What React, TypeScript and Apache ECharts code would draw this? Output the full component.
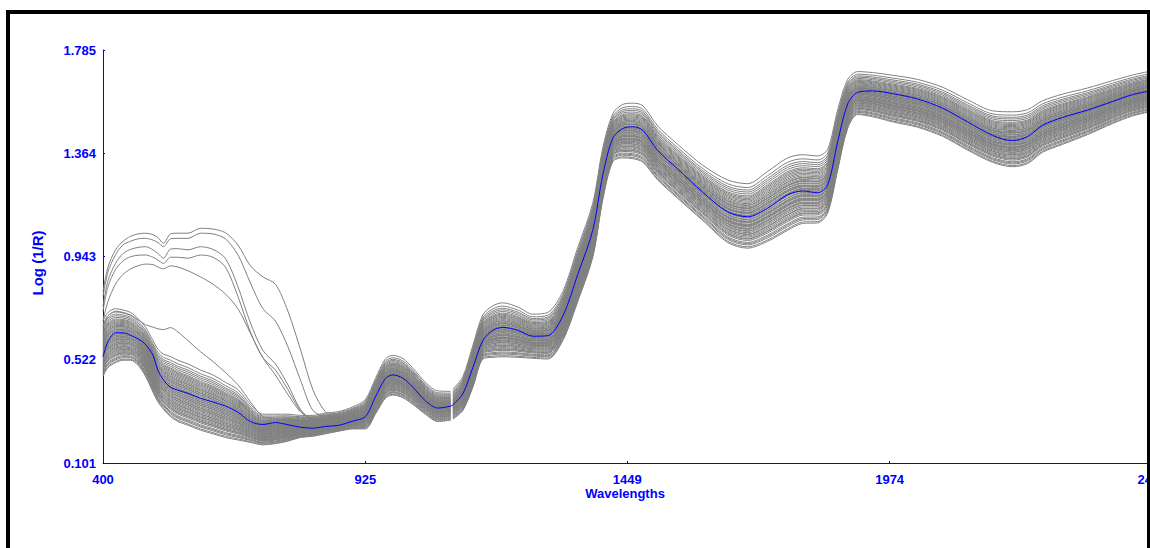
import React, { useEffect, useRef } from "react";
import * as echarts from "echarts";

// Wavelength grid (nm)
const WAVELENGTHS = [
  400, 410, 425, 440, 455, 470, 485, 500, 510, 521, 535, 550, 570, 595, 620, 645, 670, 695, 720, 745, 770, 795, 820, 845, 870, 900,
  925, 945, 965, 980, 1000, 1020, 1045, 1070, 1096, 1100,
  1120, 1140, 1160, 1180, 1200, 1230, 1260, 1290, 1320, 1350,
  1380, 1400, 1420, 1440, 1460, 1480, 1510, 1550, 1600, 1650,
  1690, 1730, 1770, 1800, 1830, 1850, 1870, 1890, 1910, 1940,
  1980, 2030, 2080, 2130, 2180, 2220, 2250, 2280, 2320, 2370,
  2420, 2460, 2499,
];

// Mean spectrum (blue line)
const MEAN_SPECTRUM = [
  0.535, 0.595, 0.632, 0.632, 0.622, 0.607, 0.585, 0.54, 0.478, 0.44, 0.41, 0.398, 0.385, 0.365, 0.35, 0.333, 0.308, 0.27, 0.258, 0.266, 0.257, 0.247, 0.243, 0.25, 0.254, 0.272,
  0.29, 0.37, 0.445, 0.46, 0.447, 0.41, 0.355, 0.325, 0.333, 0.338,
  0.383, 0.49, 0.6, 0.642, 0.654, 0.642, 0.618, 0.62, 0.7, 0.87,
  1.05, 1.275, 1.425, 1.465, 1.472, 1.458, 1.375, 1.3, 1.205, 1.125,
  1.105, 1.14, 1.195, 1.21, 1.203, 1.235, 1.41, 1.565, 1.612, 1.618,
  1.607, 1.585, 1.548, 1.492, 1.437, 1.415, 1.432, 1.478, 1.51, 1.54,
  1.575, 1.603, 1.62,
];

// Upper edge of the main bundle of sample spectra
const BAND_UPPER = [
  0.68, 0.715, 0.73, 0.725, 0.715, 0.69, 0.655, 0.6, 0.565, 0.545, 0.535, 0.52, 0.505, 0.48, 0.46, 0.43, 0.4, 0.34, 0.3, 0.3, 0.3, 0.295, 0.295, 0.305, 0.31, 0.33,
  0.36, 0.445, 0.525, 0.54, 0.527, 0.488, 0.43, 0.395, 0.393, 0.402,
  0.453, 0.58, 0.705, 0.742, 0.754, 0.737, 0.708, 0.715, 0.8, 0.98,
  1.16, 1.385, 1.525, 1.563, 1.568, 1.558, 1.475, 1.4, 1.315, 1.255,
  1.24, 1.29, 1.345, 1.358, 1.353, 1.38, 1.54, 1.665, 1.697, 1.693,
  1.682, 1.665, 1.633, 1.582, 1.537, 1.533, 1.542, 1.578, 1.605, 1.63,
  1.66, 1.683, 1.7,
];

// Lower edge of the main bundle of sample spectra
const BAND_LOWER = [
  0.455, 0.49, 0.51, 0.52, 0.52, 0.5, 0.455, 0.39, 0.35, 0.32, 0.29, 0.27, 0.255, 0.235, 0.22, 0.205, 0.195, 0.185, 0.175, 0.18, 0.19, 0.205, 0.21, 0.22, 0.23, 0.24,
  0.24, 0.3, 0.365, 0.378, 0.367, 0.34, 0.3, 0.27, 0.276, 0.28,
  0.315, 0.41, 0.525, 0.532, 0.534, 0.532, 0.528, 0.525, 0.6, 0.76,
  0.94, 1.175, 1.329, 1.345, 1.342, 1.328, 1.255, 1.18, 1.09, 1.0,
  0.977, 1.005, 1.05, 1.078, 1.08, 1.12, 1.295, 1.465, 1.522, 1.513,
  1.492, 1.47, 1.433, 1.377, 1.327, 1.309, 1.322, 1.368, 1.4, 1.44,
  1.485, 1.516, 1.535,
];

// Relative position of each sample spectrum inside the bundle (0 = lower edge, 1 = upper edge)
const SAMPLE_LEVELS = [
  0.0, 0.02, 0.05, 0.07, 0.09, 0.12, 0.14, 0.15, 0.17, 0.19, 0.21, 0.22, 0.24, 0.26, 0.27, 0.29, 0.31, 0.33,
  0.34, 0.36, 0.37, 0.39, 0.41, 0.42, 0.44, 0.45, 0.47, 0.48, 0.5, 0.51, 0.53, 0.54, 0.56, 0.58, 0.59, 0.61,
  0.62, 0.64, 0.66, 0.67, 0.69, 0.71, 0.73, 0.75, 0.77, 0.79, 0.81, 0.84, 0.87, 0.9, 0.94, 1.0,
];

// Atypical samples in the visible range (400–900 nm); afterwards they join the bundle
const OUTLIER_1 = [0.8, 0.9, 0.97, 1.005, 1.025, 1.035, 1.038, 1.032, 1.02, 0.997, 1.035, 1.038, 1.038, 1.058, 1.055, 1.04, 0.99, 0.905, 0.86, 0.83, 0.72, 0.565, 0.4, 0.31, 0.285, 0.29];
const OUTLIER_2 = [0.78, 0.88, 0.95, 0.99, 1.005, 1.015, 1.017, 1.01, 1.0, 0.983, 1.015, 1.017, 1.017, 1.038, 1.035, 1.015, 0.95, 0.835, 0.73, 0.68, 0.575, 0.44, 0.315, 0.29, 0.28, 0.29];
const OUTLIER_3 = [0.74, 0.845, 0.915, 0.955, 0.972, 0.98, 0.983, 0.97, 0.955, 0.936, 0.973, 0.975, 0.97, 0.983, 0.972, 0.935, 0.82, 0.672, 0.56, 0.505, 0.42, 0.32, 0.275, 0.27, 0.27, 0.28];
const OUTLIER_4 = [0.72, 0.82, 0.89, 0.925, 0.942, 0.948, 0.949, 0.94, 0.928, 0.915, 0.94, 0.94, 0.936, 0.949, 0.94, 0.9, 0.78, 0.635, 0.53, 0.48, 0.4, 0.315, 0.275, 0.265, 0.265, 0.275];
const OUTLIER_5 = [0.68, 0.76, 0.83, 0.87, 0.892, 0.905, 0.912, 0.91, 0.9, 0.893, 0.905, 0.9, 0.885, 0.86, 0.83, 0.79, 0.73, 0.63, 0.53, 0.46, 0.38, 0.31, 0.28, 0.27, 0.265, 0.27];
const OUTLIER_6 = [0.66, 0.7, 0.72, 0.715, 0.705, 0.685, 0.665, 0.655, 0.648, 0.645, 0.653, 0.635, 0.6, 0.555, 0.515, 0.47, 0.42, 0.35, 0.29, 0.28, 0.275, 0.27, 0.27, 0.27, 0.275, 0.29];
const OUTLIERS = [OUTLIER_1, OUTLIER_2, OUTLIER_3, OUTLIER_4, OUTLIER_5, OUTLIER_6];
const OUTLIER_LEVELS = [0.62, 0.5, 0.4, 0.35, 0.3, 0.55];

const X_TICKS = [400, 925, 1449, 1974, 2499];
const Y_TICKS = [0.101, 0.522, 0.943, 1.364, 1.785];
const DETECTOR_SPLIT = 1098;

const BLUE = "#0000ff";
const GRAY = "#808080";
const FONT = "'Liberation Sans', Arial, sans-serif";

function bandValue(i: number, level: number) {
  return BAND_LOWER[i] + level * (BAND_UPPER[i] - BAND_LOWER[i]);
}

function buildData(valueAt: (i: number) => number, split: boolean) {
  const out: (number | null)[][] = [];
  WAVELENGTHS.forEach((w, i) => {
    if (split && i > 0 && w > DETECTOR_SPLIT && WAVELENGTHS[i - 1] < DETECTOR_SPLIT) {
      out.push([DETECTOR_SPLIT, null]);
    }
    out.push([w, Math.round(valueAt(i) * 10000) / 10000]);
  });
  return out;
}

export default function App() {
  const ref = useRef<HTMLDivElement>(null);

  useEffect(() => {
    if (!ref.current) return;
    const chart = echarts.init(ref.current, undefined, { renderer: "svg" });

    const grayStyle = { color: GRAY, width: 1 };
    const series: any[] = [];
    SAMPLE_LEVELS.forEach((lv, k) => {
      series.push({
        name: "sample" + k,
        type: "line",
        data: buildData((i) => bandValue(i, lv), true),
        showSymbol: false,
        smooth: 0.3,
        silent: true,
        lineStyle: grayStyle,
        z: 2,
      });
    });
    OUTLIERS.forEach((vis, k) => {
      series.push({
        name: "outlier" + k,
        type: "line",
        data: buildData((i) => (i < vis.length ? vis[i] : bandValue(i, OUTLIER_LEVELS[k])), true),
        showSymbol: false,
        smooth: 0.3,
        silent: true,
        lineStyle: grayStyle,
        z: 2,
      });
    });
    series.push({
      name: "mean",
      type: "line",
      data: buildData((i) => MEAN_SPECTRUM[i], false),
      showSymbol: false,
      smooth: 0.3,
      silent: true,
      lineStyle: { color: BLUE, width: 1 },
      z: 5,
    });

    chart.setOption({
      animation: false,
      backgroundColor: "#ffffff",
      grid: { left: 103, top: 50, width: 1049, height: 413, containLabel: false },
      xAxis: {
        type: "value",
        min: 400,
        max: 2499,
        axisLine: { show: true, lineStyle: { color: BLUE, width: 1 } },
        axisTick: { show: true, inside: true, length: 2, lineStyle: { color: BLUE }, customValues: X_TICKS },
        axisLabel: {
          show: true,
          customValues: X_TICKS,
          formatter: (v: number) => String(Math.round(v)),
          color: BLUE,
          fontWeight: "bold",
          fontSize: 13,
          fontFamily: FONT,
          margin: 10,
        },
        splitLine: { show: false },
      },
      yAxis: {
        type: "value",
        min: 0.101,
        max: 1.785,
        axisLine: { show: true, lineStyle: { color: BLUE, width: 1 } },
        axisTick: { show: true, inside: true, length: 2, lineStyle: { color: BLUE }, customValues: Y_TICKS },
        axisLabel: {
          show: true,
          customValues: Y_TICKS,
          formatter: (v: number) => v.toFixed(3),
          color: BLUE,
          fontWeight: "bold",
          fontSize: 13,
          fontFamily: FONT,
          margin: 7,
        },
        splitLine: { show: false },
      },
      graphic: [
        {
          type: "text",
          x: 37,
          y: 263,
          rotation: Math.PI / 2,
          style: {
            text: "Log (1/R)",
            fill: BLUE,
            fontSize: 15,
            fontWeight: "bold",
            fontFamily: FONT,
            align: "center",
            verticalAlign: "middle",
          },
        },
        {
          type: "text",
          x: 625,
          y: 493,
          style: {
            text: "Wavelengths",
            fill: BLUE,
            fontSize: 13,
            fontWeight: "bold",
            fontFamily: FONT,
            align: "center",
            verticalAlign: "middle",
          },
        },
      ],
      series,
    });

    return () => chart.dispose();
  }, []);

  return (
    <div
      style={{
        position: "fixed",
        left: 0,
        top: 0,
        width: 1150,
        height: 548,
        overflow: "hidden",
        background: "#ffffff",
      }}
    >
      <div ref={ref} style={{ position: "absolute", left: 0, top: 0, width: 1170, height: 548 }} />
      <div style={{ position: "absolute", left: 6, top: 10, width: 1144, height: 4, background: "#000" }} />
      <div style={{ position: "absolute", left: 6, top: 10, width: 4, height: 538, background: "#000" }} />
      <div style={{ position: "absolute", left: 1147, top: 10, width: 3, height: 538, background: "#000" }} />
    </div>
  );
}
